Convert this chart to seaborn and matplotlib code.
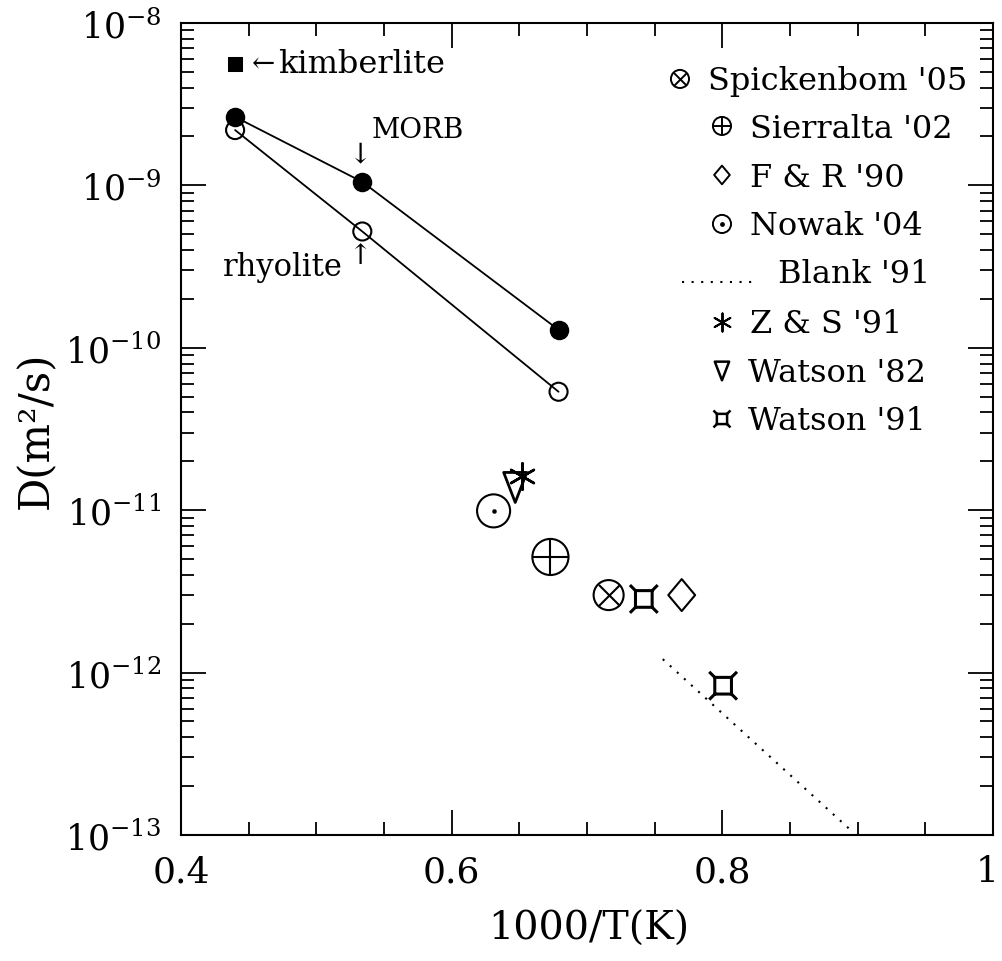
import matplotlib
matplotlib.use("Agg")
import matplotlib.pyplot as plt
import seaborn as sns
from matplotlib.path import Path
from matplotlib.ticker import MultipleLocator, LogLocator, FuncFormatter

# melt data, x = 1000/T (1/K), y = D (m^2/s)
melt_x = [0.44, 0.534, 0.679]
morb_d = [2.64e-9, 1.05e-9, 1.29e-10]
rhyolite_d = [2.19e-9, 5.2e-10, 5.36e-11]
kimberlite_x = [0.44]
kimberlite_d = [5.6e-9]

# literature values
spickenbom_x, spickenbom_d = [0.716], [3.0e-12]
sierralta_x, sierralta_d = [0.673], [5.15e-12]
fr_x, fr_d = [0.770], [3.0e-12]
nowak_x, nowak_d = [0.631], [9.9e-12]
zs_x, zs_d = [0.652], [1.63e-11]
watson82_x, watson82_d = [0.647], [1.38e-11]
watson91_x, watson91_d = [0.742, 0.8006], [2.84e-12, 8.3e-13]
blank_x, blank_d = [0.756, 0.896], [1.21e-12, 1.05e-13]

sns.set_style("white")
blk = "black"
plt.rcParams["font.family"] = ["DejaVu Serif"]
plt.rcParams["mathtext.fontset"] = "dejavuserif"
for k in ["text.color", "axes.labelcolor", "xtick.color", "ytick.color", "axes.edgecolor"]:
    plt.rcParams[k] = blk

# custom markers
tri_down = Path([(-0.77, 1), (0.77, 1), (0, -1), (-0.77, 1)], closed=True)
diamond = Path([(0, 1), (0.84, 0), (0, -1), (-0.84, 0), (0, 1)], closed=True)
q = 0.6
M, L = Path.MOVETO, Path.LINETO
watson_mk = Path(
    [(-q, -q), (q, -q), (q, q), (-q, q), (-q, -q),
     (-q, -q), (-1, -1), (q, -q), (1, -1), (q, q), (1, 1), (-q, q), (-1, 1)],
    [M, L, L, L, L, M, L, M, L, M, L, M, L])
aster = (6, 2, 0)

fig = plt.figure(figsize=(10.02, 9.62), dpi=100)
ax = fig.add_axes([0.1806, 0.131, 0.8104, 0.8441])
ax.set_yscale("log")

lw = 1.5

# melts
sns.lineplot(x=melt_x, y=morb_d, color=blk, lw=1.3, sort=False, estimator=None, ax=ax)
sns.lineplot(x=melt_x, y=rhyolite_d, color=blk, lw=1.3, sort=False, estimator=None, ax=ax)
sns.scatterplot(x=melt_x, y=morb_d, color=blk, edgecolor=blk, s=169, zorder=3, ax=ax)
sns.scatterplot(x=melt_x, y=rhyolite_d, color=blk, facecolor="none", edgecolor=blk,
                linewidth=lw, s=169, zorder=3, ax=ax)
sns.scatterplot(x=kimberlite_x, y=kimberlite_d, marker="s", color=blk, edgecolor=blk,
                s=88, zorder=3, ax=ax)

# Blank '91
sns.lineplot(x=blank_x, y=blank_d, color=blk, lw=1.5, linestyle=(0, (1, 3.6)),
             sort=False, estimator=None, ax=ax)


def open_pts(x, y, marker, s, lwidth=lw):
    sns.scatterplot(x=x, y=y, marker=marker, color=blk, facecolor="none", edgecolor=blk,
                    linewidth=lwidth, s=s, zorder=3, ax=ax)


def line_pts(x, y, marker, s, lwidth=lw):
    sns.scatterplot(x=x, y=y, marker=marker, color=blk, linewidth=lwidth, s=s,
                    zorder=3, ax=ax)


open_pts(spickenbom_x, spickenbom_d, "o", 467)
line_pts(spickenbom_x, spickenbom_d, "x", 233)
open_pts(sierralta_x, sierralta_d, "o", 676)
line_pts(sierralta_x, sierralta_d, "+", 676)
open_pts(nowak_x, nowak_d, "o", 566)
sns.scatterplot(x=nowak_x, y=nowak_d, color=blk, edgecolor=blk, s=9, zorder=3, ax=ax)
open_pts(fr_x, fr_d, diamond, 529)
open_pts(watson82_x, watson82_d, tri_down, 467, 2.0)
line_pts(zs_x, zs_d, aster, 360, 1.8)
open_pts(watson91_x, watson91_d, watson_mk, 400, 2.2)

# axes
ax.set_xlim(0.4, 1.0)
ax.set_ylim(1e-13, 1e-8)
ax.xaxis.set_major_locator(MultipleLocator(0.2))
ax.xaxis.set_minor_locator(MultipleLocator(0.05))
# the "1" at the right end is drawn separately so it can sit a bit inward
ax.xaxis.set_major_formatter(FuncFormatter(lambda v, p: "" if v > 0.99 else f"{v:g}"))
ax.yaxis.set_major_locator(LogLocator(base=10, numticks=20))
ax.yaxis.set_minor_locator(LogLocator(base=10, subs=range(2, 10), numticks=20))
ax.tick_params(which="both", direction="in", top=True, right=True, bottom=True, left=True,
               color=blk, width=1.3)
ax.tick_params(which="major", length=18)
ax.tick_params(which="minor", length=9.4)
ax.tick_params(axis="x", which="major", labelsize=26, pad=14)
ax.tick_params(axis="y", which="major", labelsize=25, pad=14)
for sp in ax.spines.values():
    sp.set_color(blk)
    sp.set_linewidth(1.5)

ax.annotate("1", xy=(1.0, 0), xycoords=ax.get_xaxis_transform(), xytext=(-4, -14),
            textcoords="offset points", ha="center", va="top", fontsize=26)

fig.text(589 / 1002, 1 - 929 / 962, "1000/T(K)", ha="center", va="center", fontsize=28.5)
fig.text(36 / 1002, 1 - 430 / 962, "D(m²/s)", ha="center", va="center", rotation=90,
         fontsize=30)

# annotations
ax.text(0.461, 5.6e-9, "←", fontsize=20, ha="center", va="center")
ax.text(0.4717, 4.99e-9, "kimberlite", fontsize=23, ha="left", va="baseline")
ax.text(0.5412, 1.99e-9, "MORB", fontsize=20, ha="left", va="baseline")
ax.text(0.5323, 1.56e-9, "↓", fontsize=20, ha="center", va="center")
ax.text(0.5197, 2.81e-10, "rhyolite", fontsize=22, ha="right", va="baseline")
ax.text(0.5323, 3.7e-10, "↑", fontsize=20, ha="center", va="center")


# legend (hand placed, axes fraction)
def fx(px):
    return (px - 181) / 812


def fy(py):
    return (836 - py) / 812


tr = ax.transAxes
legend_rows = [
    ("Spickenbom '05", 680, 708, 80, 90),
    ("Sierralta '02", 722, 750, 127, 138),
    ("F & R '90", 722, 750, 176, 187),
    ("Nowak '04", 722, 750, 225, 235),
    ("Blank '91", None, 778, 273, 283),
    ("Z & S '91", 722, 750, 323, 333),
    ("Watson '82", 722, 748, 372, 382),
    ("Watson '91", 722, 748, 420, 430),
]
for label, sx, tx, sy, base in legend_rows:
    ax.text(fx(tx), fy(base), label, transform=tr, fontsize=23, ha="left", va="baseline")


def key(i, marker, s, lwidth=1.4, open_=True):
    _, sx, _, sy, _ = legend_rows[i]
    if open_:
        ax.scatter([fx(sx)], [fy(sy)], marker=marker, s=s, facecolors="none",
                   edgecolors=blk, linewidths=lwidth, transform=tr, clip_on=False)
    else:
        ax.scatter([fx(sx)], [fy(sy)], marker=marker, s=s, color=blk,
                   linewidths=lwidth, transform=tr, clip_on=False)


key(0, "o", 170)
key(0, "x", 85, open_=False)
key(1, "o", 170)
key(1, "+", 170, open_=False)
key(2, diamond, 180)
key(3, "o", 170)
ax.scatter([fx(722)], [fy(225)], marker="o", s=6, color=blk, transform=tr)
key(5, aster, 170, open_=False)
key(6, tri_down, 180, lwidth=1.8)
key(7, watson_mk, 150, lwidth=1.8)
ax.plot([fx(682), fx(758)], [fy(283), fy(283)], color=blk, lw=1.5,
        linestyle=(0, (1, 3.6)), transform=tr)

fig.savefig("out.png", dpi=100)
